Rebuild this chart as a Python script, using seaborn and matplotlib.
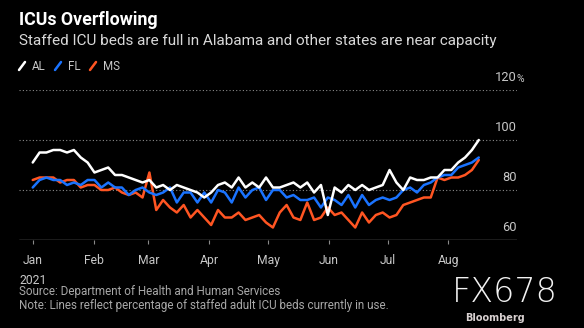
import numpy as np
import pandas as pd
import matplotlib
matplotlib.use("Agg")
import matplotlib.pyplot as plt
from matplotlib.lines import Line2D
import seaborn as sns

# Share of staffed adult ICU beds in use (%), sampled twice a week from Jan 1, 2021
al = [91, 95, 95, 96, 96, 95, 96, 93, 91, 87, 88, 89, 86, 86, 85, 84, 83, 84, 81, 82,
      80, 82, 81, 80, 79, 77, 79, 82, 83, 81, 85, 81, 83, 81, 85, 81, 81, 82, 83, 81,
      83, 79, 82, 70, 81, 79, 82, 80, 82, 80, 81, 82, 88, 83, 80, 85, 84, 84, 85, 85,
      88, 88, 91, 93, 96, 100]
fl = [81, 84, 85, 84, 84, 82, 83, 82, 84, 84, 81, 83, 81, 81, 78, 80, 81, 79, 78, 79,
      81, 75, 79, 79, 75, 79, 75, 80, 79, 75, 81, 77, 80, 81, 76, 80, 80, 77, 78, 76,
      76, 77, 73, 77, 76, 74, 78, 73, 78, 74, 76, 77, 76, 77, 80, 81, 79, 82, 83, 85,
      86, 86, 89, 90, 91, 93]
ms = [84, 85, 85, 85, 83, 84, 84, 81, 82, 82, 80, 80, 81, 79, 78, 79, 77, 87, 72, 76,
      73, 71, 74, 69, 72, 69, 66, 72, 69, 69, 71, 68, 69, 70, 67, 65, 71, 74, 69, 68,
      75, 68, 69, 73, 70, 71, 68, 65, 71, 67, 70, 71, 69, 70, 74, 75, 76, 77, 77, 85,
      84, 85, 85, 86, 88, 92]
states = ["AL", "FL", "MS"]
colors = {"AL": "#ffffff", "FL": "#1a73ff", "MS": "#ff5522"}
month_labels = ["Jan\n2021", "Feb", "Mar", "Apr", "May", "Jun", "Jul", "Aug"]
y_ticks = [60, 80, 100, 120]

dates = pd.date_range("2021-01-01", periods=len(al), freq="84h")
df = pd.DataFrame({"date": np.tile(dates, 3),
                   "pct": al + fl + ms,
                   "state": np.repeat(states, len(al))})

sns.set_theme(style="dark")
plt.rcParams["font.family"] = ["Roboto", "DejaVu Sans"]
bg = "#000000"
fig = plt.figure(figsize=(5.84, 3.28), dpi=100, facecolor=bg)
ax = fig.add_axes([19 / 584, 1 - 240 / 328, 498 / 584, 150 / 328])
ax.set_facecolor(bg)

sns.lineplot(data=df, x="date", y="pct", hue="state", palette=colors,
             hue_order=["MS", "FL", "AL"], linewidth=1.8, legend=False, ax=ax)

ax.set_ylim(60, 120)
ax.set_xlim(pd.Timestamp("2020-12-25"), pd.Timestamp("2021-09-05"))
for s in ax.spines.values():
    s.set_visible(False)
ax.axhline(60, color="#8a8a8a", lw=1.0, zorder=1)
for v in y_ticks[1:]:
    ax.axhline(v, color="#8a8a8a", lw=0.8, ls=(0, (1, 2)), zorder=0)
ax.grid(False)
ax.set_yticks([])
ax.set_xlabel("")
ax.set_ylabel("")

month_pos = pd.date_range("2021-01-01", periods=8, freq="MS")
ax.set_xticks(month_pos)
ax.set_xticklabels(month_labels, color="#c8c8c8", fontsize=8.7, ha="center",
                   linespacing=1.7)
ax.tick_params(axis="x", length=3, width=0.8, color="#8a8a8a", pad=7,
               direction="out", bottom=True)

# value labels sit just above each guide line on the right
for v in y_ticks:
    ax.annotate(str(v), xy=(1.0, v), xycoords=("axes fraction", "data"),
                xytext=(0, 4), textcoords="offset points",
                ha="right", va="bottom", color="#c8c8c8", fontsize=9.3)
ax.annotate("%", xy=(1.0, 120), xycoords=("axes fraction", "data"),
            xytext=(-0.3, 4), textcoords="offset points",
            ha="left", va="bottom", color="#c8c8c8", fontsize=7.5)

fig.text(19 / 584, 1 - 20 / 328, "ICUs Overflowing", color="#ffffff",
         fontsize=12.8, fontweight="bold", va="center")
fig.text(19 / 584, 1 - 41 / 328,
         "Staffed ICU beds are full in Alabama and other states are near capacity",
         color="#d8d8d8", fontsize=11, va="center")

# legend: short slanted strokes followed by the state names
leg_x = [19, 55, 90]
for st, x0 in zip(states, leg_x):
    fig.add_artist(Line2D([x0 / 584, (x0 + 6) / 584],
                          [1 - 70 / 328, 1 - 62 / 328],
                          color=colors[st], lw=1.8,
                          transform=fig.transFigure))
    fig.text((x0 + 13) / 584, 1 - 66 / 328, st, color="#c8c8c8",
             fontsize=8.3, va="center")

fig.text(19 / 584, 1 - 292 / 328, "Source: Department of Health and Human Services",
         color="#a8a8a8", fontsize=8.4, va="center")
fig.text(19 / 584, 1 - 306 / 328,
         "Note: Lines reflect percentage of staffed adult ICU beds currently in use.",
         color="#a8a8a8", fontsize=8.4, va="center")

fig.text(505 / 584, 1 - 292 / 328, "FX678", color="#f2f2f2", fontsize=24,
         fontweight="light", ha="center", va="center", family=["DejaVu Sans"])
fig.text(495 / 584, 1 - 318 / 328, "Bloomberg", color="#d8d0d0", fontsize=7,
         fontweight="bold", ha="center", va="center", family=["DejaVu Sans"])

fig.savefig("out.png", dpi=100, facecolor=bg)
